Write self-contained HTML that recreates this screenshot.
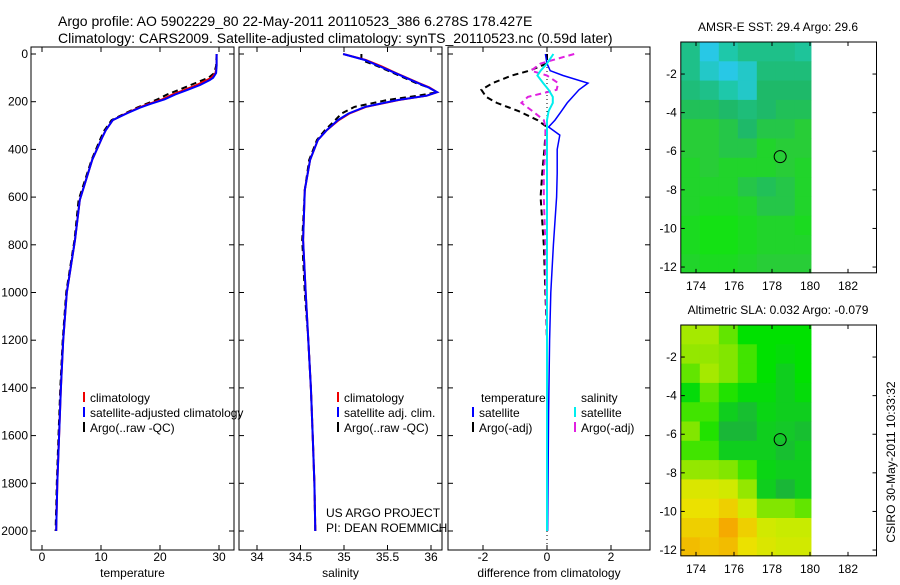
<!DOCTYPE html>
<html><head><meta charset="utf-8"><style>
body{margin:0;background:#fff;font-family:"Liberation Sans",sans-serif}
svg text{font-family:"Liberation Sans",sans-serif;fill:#000}
</style></head><body>
<svg id="s" width="900" height="580" viewBox="0 0 900 580"></svg>
<script>
// ---- profile data ----
const tempDepths=[0,50,80,100,110,130,150,170,190,210,225,250,277,320,350,444,612,780,1000,1200,1400,1600,1800,2000];
const tempSat=[29.6,29.6,29.5,29.0,28.4,26.8,24.7,22.6,20.8,18.3,16.6,14.3,12.0,10.8,10.2,8.5,6.4,5.6,4.2,3.6,3.2,2.9,2.6,2.4];
const tempClim=[29.6,29.6,29.4,28.7,27.9,26.2,24.2,22.1,20.4,18.0,16.4,14.2,12.0,10.8,10.2,8.5,6.4,5.6,4.2,3.6,3.2,2.9,2.6,2.4];
const tempArgo=[29.6,29.5,29.2,28.2,27.2,25.2,23.2,21.2,19.6,17.6,16.1,14.0,11.8,10.6,10.0,8.4,6.2,5.5,4.1,3.5,3.1,2.8,2.5,2.3];
const salDepths=[0,25,50,80,122,140,160,175,193,222,250,277,320,360,444,570,780,1000,1200,1400,1600,1800,2000];
const salSat=[34.99,35.24,35.4,35.59,35.85,35.97,36.07,35.95,35.62,35.24,35.05,34.93,34.8,34.70,34.61,34.55,34.53,34.56,34.59,34.62,34.64,34.66,34.67];
const salClim=[34.99,35.25,35.42,35.6,35.86,35.98,36.07,35.95,35.63,35.25,35.06,34.94,34.8,34.70,34.61,34.55,34.53,34.56,34.59,34.62,34.64,34.66,34.67];
const salArgo=[35.2,35.2,35.38,35.57,35.83,35.97,36.07,35.85,35.5,35.12,34.97,34.9,34.78,34.69,34.6,34.55,34.52,34.55,34.59,34.62,34.64,34.66,34.67];
const diffDepths=[0,40,70,90,122,150,180,205,240,277,306,340,400,500,600,800,1000,1200,1500,2000];
const diffTempSat=[-0.05,0.0,0.1,0.5,1.28,1.0,0.8,0.63,0.45,0.25,0.05,0.4,0.32,0.32,0.3,0.2,0.12,0.08,0.05,0.02];
const diffTempArgo=[0,0,-0.55,-1.1,-1.7,-2.05,-1.9,-1.57,-0.88,-0.3,0,-0.05,-0.08,-0.15,-0.2,-0.1,-0.05,0,0,0];
const diffSalSat=[0.2,0.0,-0.2,-0.3,-0.12,0.05,0.18,0.18,0.05,0,0,0,0,0,0,0,0,0,0,0];
const diffSalArgo=[0.85,-0.2,-0.5,0.0,0.35,0.3,-0.6,-0.8,-0.45,-0.1,-0.05,-0.05,-0.05,-0.1,-0.1,-0.05,-0.03,0,0,0];
// ---- map data (1° cells, rows from lat -0.34 southward, cols from lon 173.2) ----
const sstGrid=[
[29.7,30.0,29.8,29.7,29.7,29.7,29.75],[29.7,29.9,30.0,29.9,29.65,29.65,29.65],[29.65,29.7,29.8,29.9,29.6,29.6,29.6],
[29.55,29.55,29.6,29.65,29.6,29.55,29.55],[29.45,29.45,29.5,29.6,29.5,29.5,29.45],[29.45,29.45,29.5,29.5,29.4,29.45,29.45],
[29.4,29.45,29.4,29.4,29.4,29.45,29.4],[29.4,29.4,29.4,29.5,29.55,29.5,29.4],[29.4,29.35,29.35,29.4,29.5,29.5,29.4],
[29.35,29.3,29.3,29.35,29.4,29.4,29.35],[29.35,29.3,29.3,29.35,29.4,29.4,29.4],[29.4,29.35,29.35,29.4,29.45,29.45,29.45]];
const slaGrid=[
[0.06,0.06,0.03,0.0,0.0,0.0,0.0],[0.05,0.05,0.04,0.02,0.0,-0.01,0.0],[0.03,0.06,0.04,0.02,0.0,-0.03,0.0],
[-0.01,0.03,0.01,-0.01,-0.01,-0.03,-0.01],[0.02,0.02,-0.03,-0.05,-0.02,-0.03,-0.03],[0.04,0.01,-0.06,-0.06,-0.03,-0.04,-0.05],
[0.02,0.02,-0.03,-0.03,-0.03,-0.05,-0.03],[0.05,0.05,0.04,0.02,-0.02,-0.03,-0.03],[0.10,0.10,0.09,0.05,-0.03,-0.06,-0.03],
[0.12,0.12,0.14,0.09,0.04,0.04,0.03],[0.14,0.14,0.18,0.14,0.09,0.08,0.08],[0.16,0.15,0.16,0.12,0.1,0.09,0.09]];
const argoLon=178.43, argoLat=-6.28;
const depthTicks=[0,200,400,600,800,1000,1200,1400,1600,1800,2000];
const tempTicks=[0,10,20,30], salTicks=[34,34.5,35,35.5,36], diffTicks=[-2,0,2];
const lonTicks=[174,176,178,180,182], latTicks=[-2,-4,-6,-8,-10,-12];

const S=document.getElementById('s'),NS='http://www.w3.org/2000/svg';
function el(t,a,p){const e=document.createElementNS(NS,t);for(const k in a)e.setAttribute(k,a[k]);(p||S).appendChild(e);return e;}
function txt(x,y,s,a){const e=el('text',Object.assign({x:x,y:y,'font-size':12},a||{}));e.textContent=s;return e;}
const yD=d=>54+d*0.2385;
function panel(name,x0,x1,xf,xticks,xlabel){
  const g=el('g',{});
  
  
  const r=el('rect',{x:x0,y:47,width:x1-x0,height:503,fill:'none',stroke:'#000'},g);
  
  depthTicks.forEach(d=>{el('line',{x1:x0,x2:x0+5,y1:yD(d),y2:yD(d),stroke:'#000'},g);el('line',{x1:x1,x2:x1-5,y1:yD(d),y2:yD(d),stroke:'#000'},g);});
  xticks.forEach(v=>{const x=xf(v);el('line',{x1:x,x2:x,y1:550,y2:545,stroke:'#000'},g);el('line',{x1:x,x2:x,y1:47,y2:52,stroke:'#000'},g);
    const t=txt(x,561,String(v),{'text-anchor':'middle'});g.appendChild(t);});
  const l=txt((x0+x1)/2,577,xlabel,{'text-anchor':'middle'});g.appendChild(l);
  
  return g;
}
function line(g,xf,vals,ds,col,w,dash,name){
  const p=vals.map((v,i)=>xf(v).toFixed(1)+','+yD(ds[i]).toFixed(1)).join(' ');
  const e=el('polyline',{points:p,fill:'none',stroke:col,'stroke-width':w},g);
  if(dash)e.setAttribute('stroke-dasharray',dash);
  
}
function legend(g,x,y,col,label,name){
  el('line',{x1:x,x2:x,y1:y-10,y2:y,stroke:col,'stroke-width':2},g);
  const t=txt(x+6,y,label);g.appendChild(t);
  
}
const t1=txt(58,26,'Argo profile: AO 5902229_80 22-May-2011 20110523_386 6.278S 178.427E',{'font-size':14});

const t2=txt(58,43,'Climatology: CARS2009. Satellite-adjusted climatology: synTS_20110523.nc (0.59d later)',{'font-size':14});

// panel 1
const xT=v=>42+v*5.9;
const g1=panel('temperature-panel',31,234,xT,tempTicks,'temperature');
depthTicks.forEach(d=>{const t=txt(28,yD(d)+4,String(d),{'text-anchor':'end'});});
line(g1,xT,tempArgo,tempDepths,'#000',2,'6,4','temp-argo-line');
line(g1,xT,tempClim,tempDepths,'#e00',2,null,'temp-climatology-line');
line(g1,xT,tempSat,tempDepths,'#00f',2,null,'temp-satellite-line');
legend(g1,84,402,'#e00','climatology','legend-climatology');
legend(g1,84,417,'#00f','satellite-adjusted climatology','legend-satellite');
legend(g1,84,432,'#000','Argo(..raw -QC)','legend-argo');
// panel 2
const xS=v=>257+(v-34)*87;
const g2=panel('salinity-panel',239,442,xS,salTicks,'salinity');
line(g2,xS,salArgo,salDepths,'#000',2,'6,4','sal-argo-line');
line(g2,xS,salClim,salDepths,'#e00',2,null,'sal-climatology-line');
line(g2,xS,salSat,salDepths,'#00f',2,null,'sal-satellite-line');
legend(g2,338,402,'#e00','climatology','legend-climatology');
legend(g2,338,417,'#00f','satellite adj. clim.','legend-satellite');
legend(g2,338,432,'#000','Argo(..raw -QC)','legend-argo');
const u1=txt(326,517,'US ARGO PROJECT');
const u2=txt(326,532,'PI: DEAN ROEMMICH');
// panel 3
const xD=v=>547+v*32;
const g3=panel('difference-panel',448,650,xD,diffTicks,'difference from climatology');
el('line',{x1:xD(0),x2:xD(0),y1:47,y2:550,stroke:'#000','stroke-dasharray':'1,3'},g3);
line(g3,xD,diffTempArgo,diffDepths,'#000',2,'6,4','diff-temp-argo-line');
line(g3,xD,diffSalArgo,diffDepths,'#e020e0',2,'6,4','diff-sal-argo-line');
line(g3,xD,diffTempSat,diffDepths,'#00f',1.5,null,'diff-temp-satellite-line');
line(g3,xD,diffSalSat,diffDepths,'#0ee',2,null,'diff-sal-satellite-line');
const lt=txt(481,402,'temperature');
const ls=txt(581,402,'salinity');
legend(g3,473,417,'#00f','satellite','legend-temp-satellite');
legend(g3,473,432,'#000','Argo(-adj)','legend-temp-argo');
legend(g3,575,417,'#0ee','satellite','legend-sal-satellite');
legend(g3,575,432,'#e020e0','Argo(-adj)','legend-sal-argo');
// maps
function lerpCol(stops,v){
  const f=c=>'rgb('+c.map(Math.round).join(',')+')';
  if(v<=stops[0][0])return f(stops[0][1]);
  for(let i=1;i<stops.length;i++){if(v<=stops[i][0]){const a=stops[i-1],b=stops[i],t=(v-a[0])/(b[0]-a[0]);
    return f([0,1,2].map(k=>a[1][k]+(b[1][k]-a[1][k])*t));}}
  return f(stops[stops.length-1][1]);
}
const sstStops=[[29.3,[20,225,20]],[29.45,[40,205,55]],[29.6,[30,185,105]],[29.8,[30,200,170]],[30.0,[40,200,230]],[30.2,[40,140,255]]];
const slaStops=[[-0.08,[30,165,70]],[-0.04,[20,200,40]],[0.0,[0,225,0]],[0.04,[130,230,0]],[0.08,[200,235,0]],[0.12,[235,225,0]],[0.18,[245,170,0]]];
function map(name,top,title,grid,stops){
  const g=el('g',{});
  const lx=v=>696+(v-174)*19, ly=v=>top+(-v-0.34)*19.3;
  const bottom=ly(-12.3);
  const tt=txt(778,top-11,title,{'text-anchor':'middle','font-size':12});g.appendChild(tt);
  
  grid.forEach((row,r)=>row.forEach((v,c)=>{
    const lon0=173.2+c, lon1=Math.min(180.05,lon0+1);
    const lat0=-0.34-r, lat1=Math.max(-12.3,lat0-1);
    const cell=el('rect',{x:lx(lon0),y:ly(lat0),width:lx(lon1)-lx(lon0)+0.5,height:ly(lat1)-ly(lat0)+0.5,fill:lerpCol(stops,v)},g);
    
  }));
  const fr=el('rect',{x:lx(173.2),y:top,width:lx(183.5)-lx(173.2),height:bottom-top,fill:'none',stroke:'#000'},g);
  
  lonTicks.forEach(v=>{el('line',{x1:lx(v),x2:lx(v),y1:bottom,y2:bottom-4,stroke:'#000'},g);el('line',{x1:lx(v),x2:lx(v),y1:top,y2:top+4,stroke:'#000'},g);
    const t=txt(lx(v),bottom+17,String(v),{'text-anchor':'middle','font-size':12});g.appendChild(t);});
  latTicks.forEach(v=>{el('line',{x1:lx(173.2),x2:lx(173.2)+4,y1:ly(v),y2:ly(v),stroke:'#000'},g);el('line',{x1:lx(183.5),x2:lx(183.5)-4,y1:ly(v),y2:ly(v),stroke:'#000'},g);
    const t=txt(lx(173.2)-4,ly(v)+4,String(v),{'text-anchor':'end','font-size':12});g.appendChild(t);});
  const c=el('circle',{cx:lx(argoLon),cy:ly(argoLat),r:6,fill:'none',stroke:'#000'},g);
  
}
map('sst-map',42,'AMSR-E SST: 29.4  Argo: 29.6',sstGrid,sstStops);
map('sla-map',325,'Altimetric SLA: 0.032  Argo: -0.079',slaGrid,slaStops);
const cs=txt(0,0,'CSIRO 30-May-2011 10:33:32',{'text-anchor':'middle','transform':'translate(895,462) rotate(-90)','font-size':12});

</script>
</body></html>
